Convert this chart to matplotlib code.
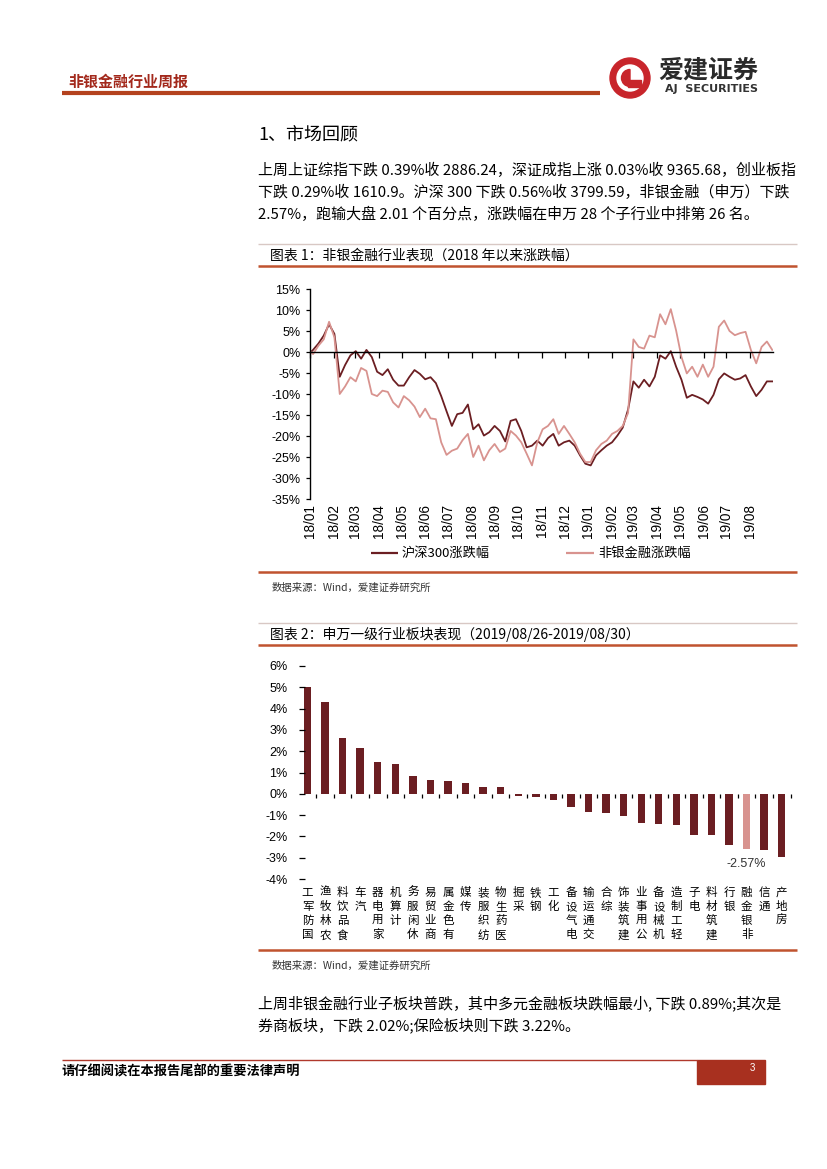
import matplotlib
matplotlib.use('Agg')
import matplotlib.pyplot as plt
import matplotlib.transforms as mtrans
from matplotlib.patches import Rectangle, Circle, Wedge
from matplotlib.lines import Line2D
import numpy as np
import pandas as pd

plt.rcParams['font.family'] = ['Noto Sans CJK SC', 'DejaVu Sans']
plt.rcParams['axes.unicode_minus'] = False

# ---------------- data ----------------
series_start = '2018-01-02'
weekly_start = '2018-01-05'
hs300 = [0.0,
         0.5, 2.0, 3.9, 6.6, 4.3, -5.9, -3.1, -0.8, 0.2, -1.6,
         0.5, -1.2, -4.7, -5.5, -4.1, -6.6, -8.0, -8.0, -6.0, -4.3,
         -5.2, -6.5, -6.0, -7.4, -10.5, -14.1, -17.6, -14.8, -14.5, -12.5,
         -18.4, -17.2, -19.9, -19.1, -17.6, -18.8, -21.3, -16.4, -16.0, -18.8,
         -22.7, -22.3, -21.1, -22.3, -20.5, -19.5, -22.3, -21.5, -21.1, -22.3,
         -24.6, -26.6, -27.0, -24.6, -23.4, -22.3, -21.5, -19.9, -18.0, -13.7,
         -7.0, -8.5, -6.6, -8.2, -5.9, -0.8, -1.6, 0.2, -3.5, -6.6,
         -10.9, -10.2, -10.7, -11.3, -12.3, -10.2, -6.5, -5.1, -5.9, -6.6,
         -6.3, -5.5, -8.2, -10.5, -9.0, -7.0, -7.0]
nonbank = [0.0,
           -0.5, 1.5, 3.0, 7.2, 3.5, -10.0, -8.2, -6.0, -7.0, -3.8,
           -4.5, -10.0, -10.5, -9.2, -9.5, -12.0, -13.2, -10.5, -11.5, -13.0,
           -15.5, -13.5, -15.8, -16.0, -21.5, -24.5, -23.5, -23.0, -21.0, -19.5,
           -25.0, -22.3, -25.8, -23.4, -21.9, -23.8, -23.0, -18.8, -19.9, -21.5,
           -24.2, -27.0, -21.5, -18.4, -17.6, -16.0, -19.5, -17.6, -19.5, -21.5,
           -24.2, -26.2, -26.2, -23.4, -21.9, -21.1, -19.5, -18.8, -17.6, -14.5,
           3.0, 1.2, 0.8, 3.9, 3.5, 9.0, 6.6, 10.2, 5.1, -1.2,
           -5.1, -3.5, -5.9, -3.0, -5.9, -3.5, 6.0, 7.5, 5.0, 4.0,
           4.5, 4.8, 0.5, -2.7, 1.2, 2.5, 0.5]
month_labels = ['18/01', '18/02', '18/03', '18/04', '18/05', '18/06', '18/07',
                '18/08', '18/09', '18/10', '18/11', '18/12', '19/01', '19/02',
                '19/03', '19/04', '19/05', '19/06', '19/07', '19/08']
line_names = ['沪深300涨跌幅', '非银金融涨跌幅']

industries = ['国防军工', '农林牧渔', '食品饮料', '汽车', '家用电器', '计算机',
              '休闲服务', '商业贸易', '有色金属', '传媒', '纺织服装', '医药生物',
              '采掘', '钢铁', '化工', '电气设备', '交通运输', '综合', '建筑装饰',
              '公用事业', '机械设备', '轻工制造', '电子', '建筑材料', '银行',
              '非银金融', '通信', '房地产']
changes = [5.03, 4.33, 2.63, 2.16, 1.50, 1.41, 0.85, 0.66, 0.61, 0.52, 0.30,
           0.30, -0.09, -0.14, -0.28, -0.62, -0.86, -0.90, -1.04, -1.37, -1.43,
           -1.48, -1.94, -1.94, -2.41, -2.57, -2.62, -2.95]
highlight = '非银金融'

# ---------------- layout helpers ----------------
W, H = 827, 1169
fig = plt.figure(figsize=(W / 100, H / 100), dpi=100)


def fx(x):
    return x / W


def fy(y):
    return 1 - y / H


def hline(x0, x1, y, color, lw):
    fig.add_artist(Line2D([fx(x0), fx(x1)], [fy(y), fy(y)], color=color, lw=lw,
                          solid_capstyle='butt'))


DARK = '#6B1E22'
PINK = '#D8938F'
RED_LINE = '#C0532F'

# ---------------- header ----------------
fig.text(fx(68), fy(82), '非银金融行业周报', fontsize=10.8, fontweight='bold',
         color='#A3291C', va='center', ha='left')
hline(62, 600, 93, '#B4421E', 3.0)

# logo
cx, cy = 630 / 100, (H - 78) / 100
fig.add_artist(Circle((cx, cy), 0.20, transform=fig.dpi_scale_trans,
                      color='#C8252B'))
fig.add_artist(Circle((cx, cy), 0.13, transform=fig.dpi_scale_trans,
                      color='white'))
fig.add_artist(Wedge((cx, cy), 0.085, 90, 270, transform=fig.dpi_scale_trans,
                     color='#C8252B'))
fig.add_artist(Rectangle((cx - 0.02, cy - 0.085), 0.13, 0.06,
                         transform=fig.dpi_scale_trans, color='#C8252B'))
fig.text(fx(658), fy(71), '爱建证券', fontsize=18, fontweight='bold',
         color='#2A2A2A', va='center', ha='left')
fig.text(fx(665), fy(89), 'AJ  SECURITIES', fontsize=8, fontweight='bold',
         color='#333333', va='center', ha='left', family='DejaVu Sans')

# ---------------- section text ----------------
fig.text(fx(258), fy(135), '1、市场回顾', fontsize=13, va='center', ha='left')
para1 = ['上周上证综指下跌 0.39%收 2886.24，深证成指上涨 0.03%收 9365.68，创业板指',
         '下跌 0.29%收 1610.9。沪深 300 下跌 0.56%收 3799.59，非银金融（申万）下跌',
         '2.57%，跑输大盘 2.01 个百分点，涨跌幅在申万 28 个子行业中排第 26 名。']
for k, s in enumerate(para1):
    fig.text(fx(258), fy(170 + 22 * k), s, fontsize=10.8, va='center', ha='left')

# ---------------- chart 1 frame ----------------
hline(258, 797, 244, '#D8C8C4', 1.0)
fig.text(fx(270), fy(256), '图表 1：非银金融行业表现（2018 年以来涨跌幅）',
         fontsize=10, va='center', ha='left')
hline(258, 797, 266.5, RED_LINE, 1.8)
hline(258, 797, 572, RED_LINE, 1.8)
fig.text(fx(272), fy(588), '数据来源：Wind，爱建证券研究所', fontsize=7.5,
         color='#333333', va='center', ha='left')

# ---------------- chart 1 ----------------
x_left, x_right, y_top, y_bot = 310, 773, 289, 499
ax1 = fig.add_axes([fx(x_left), fy(y_bot), (x_right - x_left) / W,
                    (y_bot - y_top) / H])
dates = pd.DatetimeIndex([pd.Timestamp(series_start)]).append(
    pd.date_range(weekly_start, periods=len(hs300) - 1, freq='7D'))
ax1.plot(dates, hs300, color=DARK, lw=1.3, label=line_names[0])
ax1.plot(dates, nonbank, color=PINK, lw=1.3, label=line_names[1])
ax1.set_xlim(pd.Timestamp('2018-01-01'), pd.Timestamp('2019-08-31'))
ax1.set_ylim(-35, 15)
yt = np.arange(-35, 16, 5)
ax1.set_yticks(yt)
ax1.set_yticklabels([f'{v}%' for v in yt], family='Liberation Sans', fontsize=9)
for s in ['top', 'right']:
    ax1.spines[s].set_visible(False)
ax1.spines['bottom'].set_position(('data', 0))
ax1.spines['bottom'].set_linewidth(1.0)
ax1.spines['left'].set_linewidth(1.0)
month_ticks = pd.date_range('2018-01-01', periods=len(month_labels), freq='MS')
ax1.set_xticks(month_ticks)
ax1.tick_params(axis='x', direction='out', length=4, width=0.9, labelbottom=False)
ax1.tick_params(axis='y', direction='out', length=3, width=0.9, pad=4)
ax1.patch.set_alpha(0)
blend1 = mtrans.blended_transform_factory(ax1.transData, ax1.transAxes)
for d, lab in zip(month_ticks, month_labels):
    ax1.text(d, -0.025, lab, transform=blend1, rotation=90, ha='center', va='top',
             fontsize=9.8, family='Liberation Sans')

# legend (manual)
hline(371, 398, 553, DARK, 1.6)
fig.text(fx(402), fy(553), line_names[0], fontsize=9.5, va='center', ha='left')
hline(566, 594, 553, PINK, 1.6)
fig.text(fx(598), fy(553), line_names[1], fontsize=9.5, va='center', ha='left')

# ---------------- chart 2 frame ----------------
hline(258, 797, 623, '#D8C8C4', 1.0)
fig.text(fx(270), fy(634), '图表 2：申万一级行业板块表现（2019/08/26-2019/08/30）',
         fontsize=10, va='center', ha='left')
hline(258, 797, 645, RED_LINE, 1.8)
hline(258, 797, 950, RED_LINE, 1.8)
fig.text(fx(272), fy(966), '数据来源：Wind，爱建证券研究所', fontsize=7.5,
         color='#333333', va='center', ha='left')

# ---------------- chart 2 ----------------
b_left, b_right, b_top, b_bot = 298.7, 790.5, 666, 879
ax2 = fig.add_axes([fx(b_left), fy(b_bot), (b_right - b_left) / W,
                    (b_bot - b_top) / H])
xpos = np.arange(len(industries))
bar_colors = [PINK if n == highlight else DARK for n in industries]
ax2.bar(xpos, changes, width=0.42, color=bar_colors)
ax2.set_xlim(-0.5, len(industries) - 0.5)
ax2.set_ylim(-4, 6)
for s in ['top', 'right', 'left', 'bottom']:
    ax2.spines[s].set_visible(False)
ax2.spines['bottom'].set_position(('data', 0))
ax2.set_xticks(np.append(xpos[:-1] + 0.5, len(industries) - 0.5))
ax2.tick_params(axis='x', direction='out', length=3, width=0.9, labelbottom=False)
y2 = np.arange(-4, 7, 1)
ax2.set_yticks(y2)
ax2.set_yticklabels([f'{v}%' for v in y2], family='Liberation Sans', fontsize=9)
ax2.tick_params(axis='y', direction='in', length=4, width=0.9, pad=8)
ax2.patch.set_alpha(0)
blend2 = mtrans.blended_transform_factory(ax2.transData, ax2.transAxes)
for i, name in enumerate(industries):
    ax2.text(i, -0.032, '\n'.join(reversed(name)), transform=blend2,
             ha='center', va='top', fontsize=8.3, linespacing=1.12)
hi = industries.index(highlight)
ax2.text(hi, changes[hi] - 0.72, f'{changes[hi]:.2f}%', ha='center', va='center',
         fontsize=9, family='Liberation Sans', color='#333333')

# ---------------- bottom paragraph ----------------
para2 = ['上周非银金融行业子板块普跌，其中多元金融板块跌幅最小, 下跌 0.89%;其次是',
         '券商板块，下跌 2.02%;保险板块则下跌 3.22%。']
for k, s in enumerate(para2):
    fig.text(fx(258), fy(1003 + 22 * k), s, fontsize=10.8, va='center', ha='left')

# ---------------- footer ----------------
hline(62, 697, 1060, '#B0392C', 1.0)
fig.add_artist(Rectangle((fx(697), fy(1084)), (765 - 697) / W, 24 / H,
                         transform=fig.transFigure, color='#A8301F'))
fig.text(fx(62), fy(1072), '请仔细阅读在本报告尾部的重要法律声明', fontsize=9.5,
         fontweight='bold', va='center', ha='left')
fig.text(fx(752), fy(1068), '3', fontsize=7, color='white', va='center',
         ha='center', family='Liberation Sans')

fig.savefig('out.png', dpi=100)
